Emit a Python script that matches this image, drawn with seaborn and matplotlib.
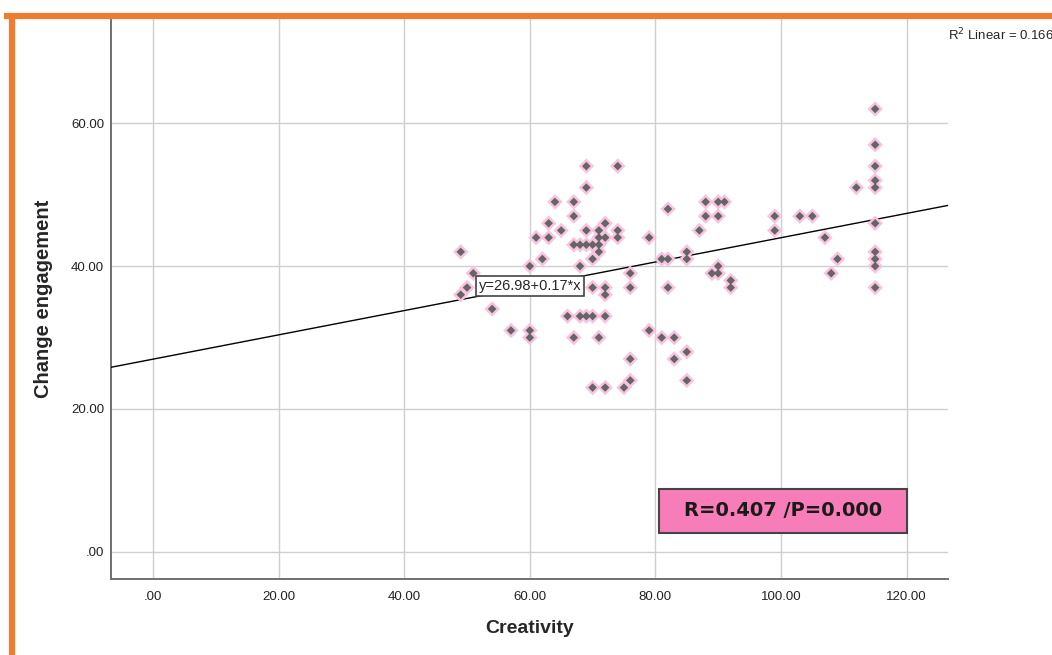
import matplotlib
matplotlib.use('Agg')
import matplotlib.pyplot as plt
from matplotlib.patches import Rectangle
from matplotlib.lines import Line2D
from matplotlib.ticker import FuncFormatter
import seaborn as sns
import pandas as pd

# ค่าที่อ่านจากกราฟต้นฉบับ (Creativity, Change engagement)
creativity = [49, 49, 50, 51, 54, 57, 60, 60, 60, 61, 62, 63, 63, 64, 65, 66,
              67, 67, 67, 67, 68, 68, 68, 69, 69, 69, 69, 69, 70, 70, 70, 70,
              70, 71, 71, 71, 71, 71, 72, 72, 72, 72, 72, 72, 74, 74, 74, 75,
              76, 76, 76, 76, 79, 79, 81, 81, 82, 82, 82, 83, 83, 85, 85, 85,
              85, 87, 88, 88, 89, 90, 90, 90, 90, 91, 92, 92, 99, 99, 103, 105,
              107, 108, 109, 112, 115, 115, 115, 115, 115, 115, 115, 115, 115, 115]
change_engagement = [42, 36, 37, 39, 34, 31, 31, 30, 40, 44, 41, 46, 44, 49, 45, 33,
                     49, 47, 43, 30, 43, 40, 33, 54, 51, 45, 43, 33, 43, 41, 37, 33,
                     23, 45, 44, 43, 42, 30, 46, 44, 37, 36, 33, 23, 54, 45, 44, 23,
                     39, 37, 27, 24, 44, 31, 41, 30, 48, 41, 37, 30, 27, 42, 41, 28,
                     24, 45, 49, 47, 39, 49, 47, 40, 39, 49, 38, 37, 47, 45, 47, 47,
                     44, 39, 41, 51, 62, 57, 54, 52, 51, 46, 42, 41, 40, 37]

# ค่าสมการเส้นตรงจาก SPSS
intercept = 26.98
slope = 0.17
r_squared = 0.166
r_value = 0.407
p_value = 0.000

x_ticks = [0, 20, 40, 60, 80, 100, 120]
y_ticks = [0, 20, 40, 60]

df = pd.DataFrame({'Creativity': creativity, 'Change engagement': change_engagement})

sns.set_style("white")
plt.rcParams['font.family'] = ['Liberation Sans', 'DejaVu Sans']

fig = plt.figure(figsize=(10.52, 6.55), dpi=100)
ax = fig.add_axes([111 / 1052, 1 - 579 / 655, (948 - 111) / 1052, (579 - 19) / 655])

ax.set_xlim(-6.7, 126.6)
ax.set_ylim(-3.8, 74.6)
ax.set_xticks(x_ticks)
ax.set_yticks(y_ticks)
ax.grid(True, color='#cfcfcf', linewidth=1.0)
ax.set_axisbelow(True)

fmt = FuncFormatter(lambda v, pos: '.00' if v == 0 else f'{v:.2f}')
ax.xaxis.set_major_formatter(fmt)
ax.yaxis.set_major_formatter(fmt)
ax.tick_params(axis='both', length=0, labelsize=9.5, colors='#222222')
ax.tick_params(axis='x', pad=9)
ax.tick_params(axis='y', pad=5)

for side in ['top', 'right']:
    ax.spines[side].set_visible(False)
for side in ['left', 'bottom']:
    ax.spines[side].set_color('#707070')
    ax.spines[side].set_linewidth(1.4)

# เส้น fit
ax.axline((0, intercept), slope=slope, color='black', linewidth=1.0, zorder=3)

# จุด: ขอบชมพู + ข้าวหลามตัดสีเทาเข้ม
sns.scatterplot(data=df, x='Creativity', y='Change engagement', ax=ax, marker='D',
                s=62, color='#f9c3df', edgecolor='none', zorder=4, legend=False)
sns.scatterplot(data=df, x='Creativity', y='Change engagement', ax=ax, marker='D',
                s=19, color='#656565', edgecolor='none', zorder=5, legend=False)

ax.set_xlabel('Creativity', fontsize=14, fontweight='bold', labelpad=12)
ax.set_ylabel('Change engagement', fontsize=14.5, fontweight='bold', labelpad=13)

# กล่องสมการ
ax.text(60, 37.2, f'y={intercept:.2f}+{slope:.2f}*x', fontsize=10.5, ha='center', va='center',
        zorder=6, bbox=dict(boxstyle='square,pad=0.2', facecolor='white', edgecolor='#444444', linewidth=1.2))

# กล่อง R / P
ax.add_patch(Rectangle((0.6547, 0.0827), 0.951 - 0.6547, 0.1607 - 0.0827, transform=ax.transAxes,
                       facecolor='#f77db8', edgecolor='#444444', linewidth=1.5, zorder=6))
ax.text((0.6547 + 0.951) / 2, (0.0827 + 0.1607) / 2, f'R={r_value:.3f} /P={p_value:.3f}',
        transform=ax.transAxes, fontsize=14, fontweight='bold', family='DejaVu Sans',
        color='#1a1a1a', ha='center', va='center', zorder=7)

fig.text(948 / 1052, 1 - 35 / 655, f'R$^2$ Linear = {r_squared:.3f}', fontsize=9.5, ha='left', va='center')

# กรอบสีส้ม
fig.add_artist(Line2D([4 / 1052, 1], [1 - 15.5 / 655, 1 - 15.5 / 655], color='#ed7d31',
                      linewidth=4.5, solid_capstyle='butt'))
fig.add_artist(Line2D([11.5 / 1052, 11.5 / 1052], [0, 1 - 13 / 655], color='#ed7d31',
                      linewidth=4.5, solid_capstyle='butt'))

fig.savefig('out.png', dpi=100)
